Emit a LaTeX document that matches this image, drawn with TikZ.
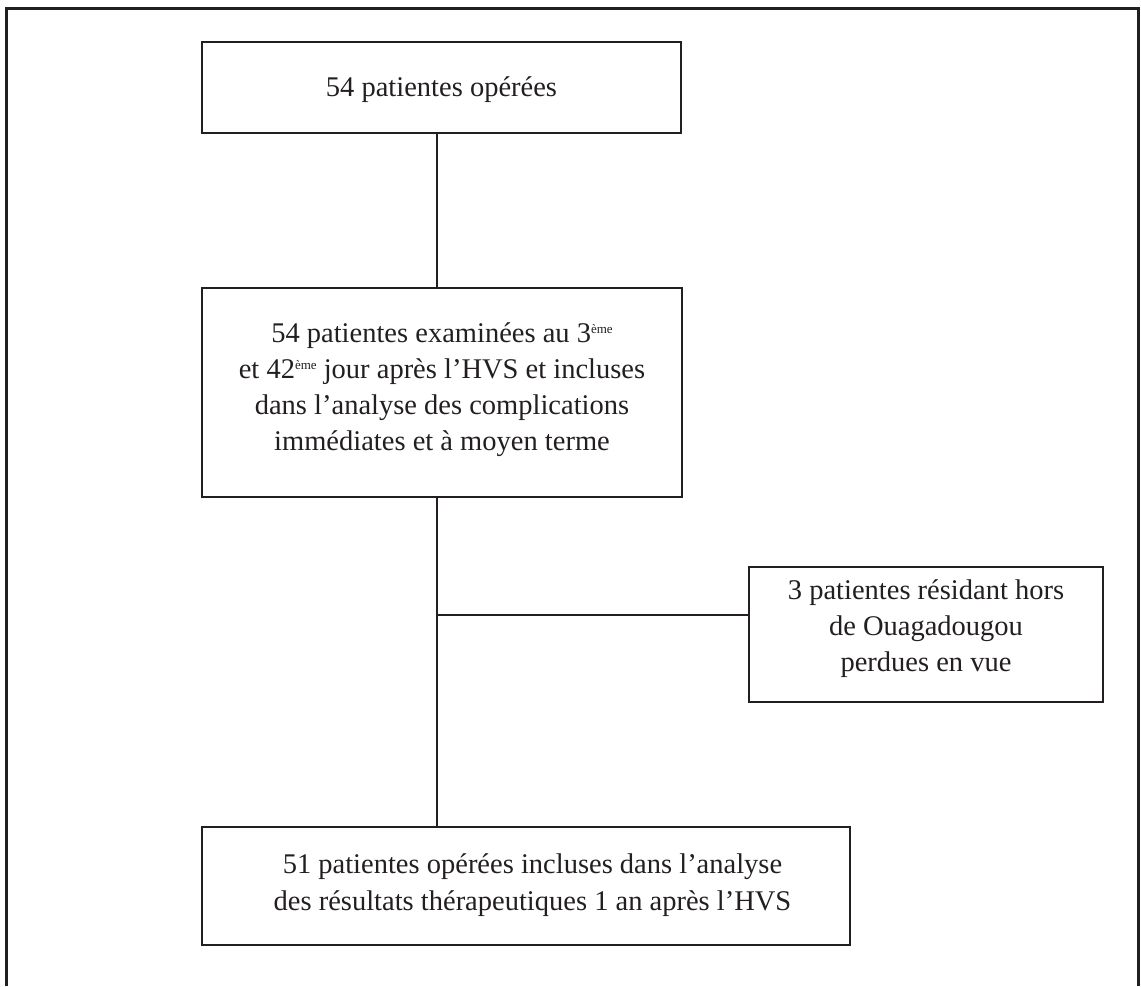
\documentclass[tikz,border=0pt]{standalone}
\usepackage{fontspec}
\setmainfont{Liberation Serif}
\definecolor{ink}{RGB}{35,31,32}
\newcommand{\supe}{\raisebox{9pt}{\fontsize{13}{13}\selectfont ème}}
\begin{document}
\begin{tikzpicture}[x=1pt,y=-1pt,
  box/.style={draw=ink, line width=2.6pt, rectangle, inner sep=0pt},
  txt/.style={inner sep=0pt, align=center, text=ink, font=\fontsize{28.5}{36}\selectfont},
  link/.style={draw=ink, line width=2.2pt}]
\useasboundingbox (0,0) rectangle (1141,986);
\draw[draw=ink, line width=3pt] (6,986) -- (6,8) -- (1138,8) -- (1138,986);
\node[box, minimum width=479pt, minimum height=91pt] (b1) at (441.5,87.5) {};
\node[txt] (t1) at (441.5,90) {54 patientes opérées};
\node[box, minimum width=480pt, minimum height=209pt] (b2) at (442,392.5) {};
\node[txt] (t2) at (442,390)
  {54 patientes examinées au 3\supe\\et 42\supe{} jour après l’HVS et incluses\\dans l’analyse des complications\\immédiates et à moyen terme};
\node[box, minimum width=354pt, minimum height=135pt] (b3) at (926,634.5) {};
\node[txt] (t3) at (926,629) {3 patientes résidant hors\\de Ouagadougou\\perdues en vue};
\node[box, minimum width=648pt, minimum height=118pt] (b4) at (526,886) {};
\node[txt, font=\fontsize{28.5}{37}\selectfont] (t4) at (532.5,885)
  {51 patientes opérées incluses dans l’analyse\\des résultats thérapeutiques 1 an après l’HVS};
\coordinate (c) at (437,615);
\draw[link] (b1.south -| c) -- (b2.north -| c);
\draw[link] (b2.south -| c) -- (b4.north -| c);
\draw[link] (c) -- (b3.west |- c);
\end{tikzpicture}
\end{document}
